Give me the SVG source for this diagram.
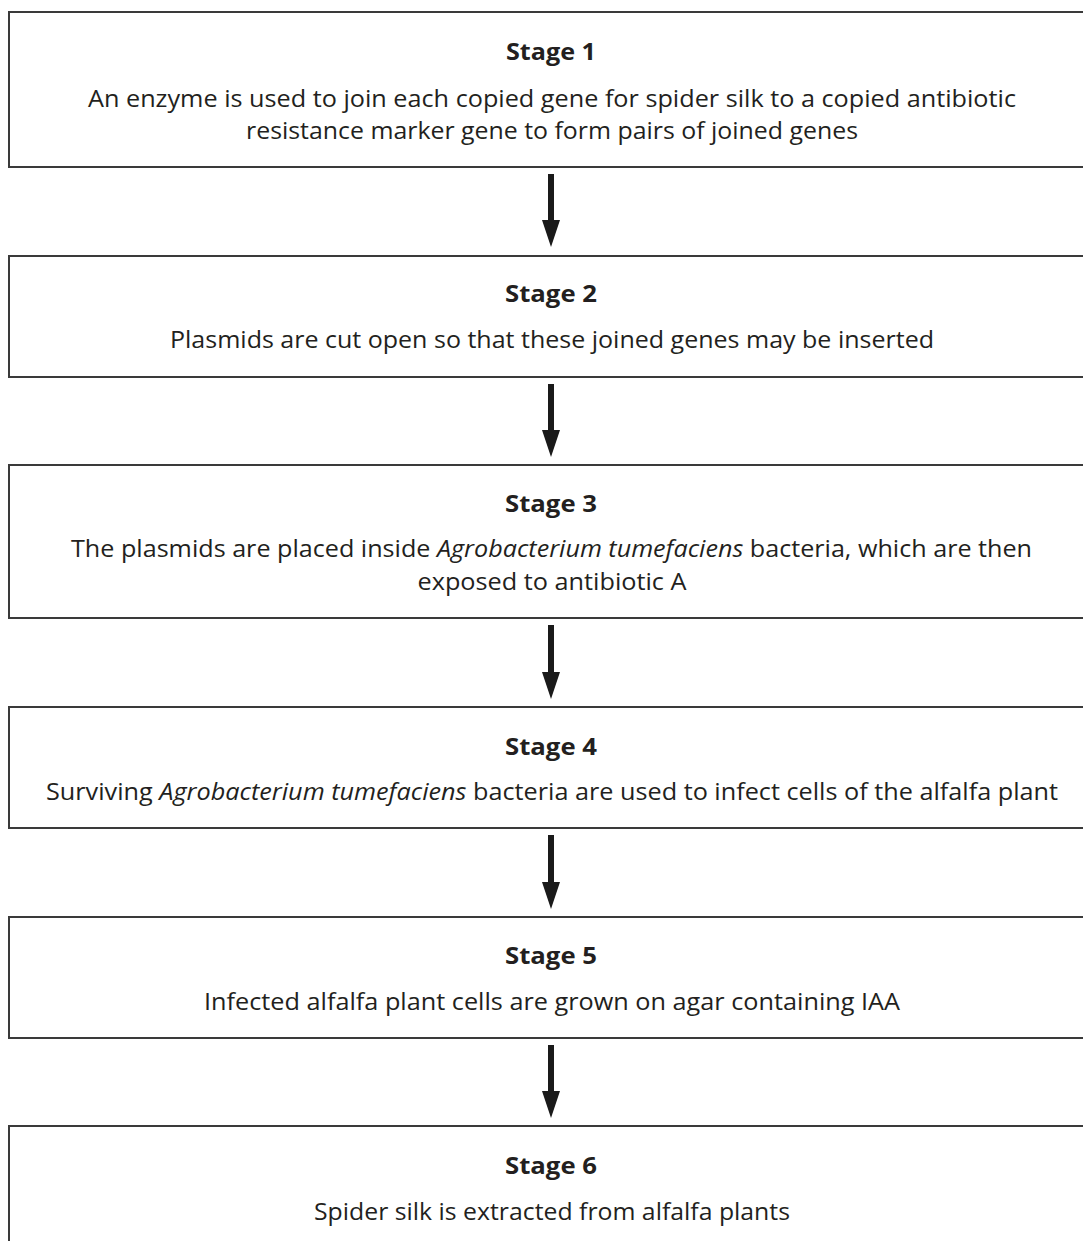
<svg xmlns="http://www.w3.org/2000/svg" width="1083" height="1241" viewBox="0 0 1083 1241">
<defs>
<style>
.box{fill:#fff;stroke:#3a3a3a;stroke-width:2}
.t{font-family:"Open Sans","Noto Sans",sans-serif;font-size:24px;fill:#231f20;text-anchor:middle}
.h{font-weight:bold;font-size:23px}
.i{font-style:italic}
.arr{fill:#1a1a1a}
</style>
</defs>
<rect width="1083" height="1241" fill="#fff"/>
<g id="stage1">
<rect class="box" x="9" y="12" width="1090" height="155"/>
<text class="t h" x="551" y="60" textLength="90" lengthAdjust="spacingAndGlyphs">Stage 1</text>
<text class="t" x="552" y="107" textLength="928" lengthAdjust="spacingAndGlyphs">An enzyme is used to join each copied gene for spider silk to a copied antibiotic</text>
<text class="t" x="552" y="139" textLength="612" lengthAdjust="spacingAndGlyphs">resistance marker gene to form pairs of joined genes</text>
</g>
<g id="stage2">
<rect class="box" x="9" y="256" width="1090" height="121"/>
<text class="t h" x="551" y="302" textLength="92" lengthAdjust="spacingAndGlyphs">Stage 2</text>
<text class="t" x="552" y="348" textLength="764" lengthAdjust="spacingAndGlyphs">Plasmids are cut open so that these joined genes may be inserted</text>
</g>
<g id="stage3">
<rect class="box" x="9" y="465" width="1090" height="153"/>
<text class="t h" x="551" y="512" textLength="92" lengthAdjust="spacingAndGlyphs">Stage 3</text>
<text class="t" x="551.5" y="557" textLength="961" lengthAdjust="spacingAndGlyphs">The plasmids are placed inside <tspan class="i">Agrobacterium tumefaciens</tspan> bacteria, which are then</text>
<text class="t" x="552" y="590" textLength="269" lengthAdjust="spacingAndGlyphs">exposed to antibiotic A</text>
</g>
<g id="stage4">
<rect class="box" x="9" y="707" width="1090" height="121"/>
<text class="t h" x="551" y="755" textLength="92" lengthAdjust="spacingAndGlyphs">Stage 4</text>
<text class="t" x="552" y="800" textLength="1012" lengthAdjust="spacingAndGlyphs">Surviving <tspan class="i">Agrobacterium tumefaciens</tspan> bacteria are used to infect cells of the alfalfa plant</text>
</g>
<g id="stage5">
<rect class="box" x="9" y="917" width="1090" height="121"/>
<text class="t h" x="551" y="964" textLength="92" lengthAdjust="spacingAndGlyphs">Stage 5</text>
<text class="t" x="552" y="1010" textLength="696" lengthAdjust="spacingAndGlyphs">Infected alfalfa plant cells are grown on agar containing IAA</text>
</g>
<g id="stage6">
<rect class="box" x="9" y="1126" width="1090" height="140"/>
<text class="t h" x="551" y="1174" textLength="92" lengthAdjust="spacingAndGlyphs">Stage 6</text>
<text class="t" x="552" y="1220" textLength="476" lengthAdjust="spacingAndGlyphs">Spider silk is extracted from alfalfa plants</text>
</g>
<g id="connectors">
<polygon class="arr" points="548,174 554,174 554,220 560,220 551,247 542,220 548,220"/>
<polygon class="arr" points="548,384 554,384 554,430 560,430 551,457 542,430 548,430"/>
<polygon class="arr" points="548,625 554,625 554,672 560,672 551,699 542,672 548,672"/>
<polygon class="arr" points="548,835 554,835 554,882 560,882 551,909 542,882 548,882"/>
<polygon class="arr" points="548,1045 554,1045 554,1091 560,1091 551,1118 542,1091 548,1091"/>
</g>
</svg>
